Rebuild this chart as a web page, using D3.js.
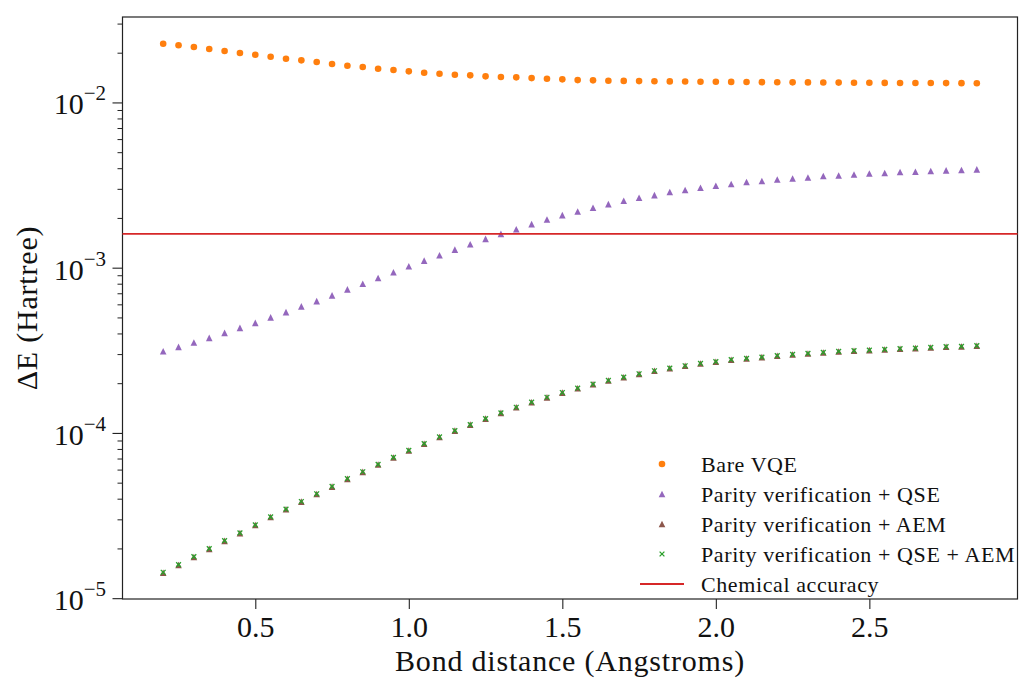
<!DOCTYPE html>
<html>
<head>
<meta charset="utf-8">
<script src="https://cdn.jsdelivr.net/npm/d3@7"></script>
<style>
  html, body { margin: 0; padding: 0; background: #fff; }
  svg { display: block; }
  text { font-family: "Liberation Serif", "DejaVu Serif", serif; fill: #111; }
</style>
</head>
<body>
<svg id="chart" width="1021" height="680"></svg>
<script>
// Bond distances (Angstroms)
const bondDistance = [
  0.20, 0.25, 0.30, 0.35, 0.40, 0.45, 0.50, 0.55, 0.60, 0.65,
  0.70, 0.75, 0.80, 0.85, 0.90, 0.95, 1.00, 1.05, 1.10, 1.15,
  1.20, 1.25, 1.30, 1.35, 1.40, 1.45, 1.50, 1.55, 1.60, 1.65,
  1.70, 1.75, 1.80, 1.85, 1.90, 1.95, 2.00, 2.05, 2.10, 2.15,
  2.20, 2.25, 2.30, 2.35, 2.40, 2.45, 2.50, 2.55, 2.60, 2.65,
  2.70, 2.75, 2.80, 2.85
];

// Energy error (Hartree) for each mitigation strategy
const bareVQE = [
  0.02267, 0.02218, 0.02166, 0.02106, 0.02048, 0.01992, 0.01945, 0.01891, 0.01839, 0.01798,
  0.01756, 0.01708, 0.01668, 0.01638, 0.01599, 0.01570, 0.01542, 0.01512, 0.01491, 0.01470,
  0.01458, 0.01438, 0.01424, 0.01418, 0.01404, 0.01390, 0.01379, 0.01365, 0.01360, 0.01352,
  0.01350, 0.01346, 0.01344, 0.01341, 0.01339, 0.01335, 0.01333, 0.01331, 0.01328, 0.01327,
  0.01325, 0.01323, 0.01322, 0.01320, 0.01318, 0.01316, 0.01315, 0.01313, 0.01312, 0.01311,
  0.01310, 0.01309, 0.01308, 0.01307
];

const parityQSE = [
  3.123e-4, 3.316e-4, 3.526e-4, 3.760e-4, 4.032e-4, 4.324e-4, 4.637e-4, 5.001e-4, 5.385e-4, 5.831e-4,
  6.279e-4, 6.802e-4, 7.395e-4, 7.996e-4, 8.661e-4, 9.377e-4, 1.020e-3, 1.103e-3, 1.189e-3, 1.286e-3,
  1.387e-3, 1.494e-3, 1.601e-3, 1.710e-3, 1.834e-3, 1.956e-3, 2.080e-3, 2.187e-3, 2.303e-3, 2.425e-3,
  2.539e-3, 2.648e-3, 2.750e-3, 2.868e-3, 2.949e-3, 3.045e-3, 3.131e-3, 3.207e-3, 3.298e-3, 3.344e-3,
  3.420e-3, 3.467e-3, 3.516e-3, 3.586e-3, 3.616e-3, 3.666e-3, 3.718e-3, 3.739e-3, 3.792e-3, 3.807e-3,
  3.846e-3, 3.878e-3, 3.899e-3, 3.933e-3
];

const parityAEM = [
  1.425e-5, 1.588e-5, 1.776e-5, 1.988e-5, 2.222e-5, 2.476e-5, 2.770e-5, 3.097e-5, 3.450e-5, 3.838e-5,
  4.274e-5, 4.735e-5, 5.275e-5, 5.815e-5, 6.441e-5, 7.103e-5, 7.834e-5, 8.603e-5, 9.446e-5, 1.032e-4,
  1.122e-4, 1.220e-4, 1.322e-4, 1.429e-4, 1.532e-4, 1.642e-4, 1.754e-4, 1.863e-4, 1.970e-4, 2.075e-4,
  2.173e-4, 2.278e-4, 2.376e-4, 2.464e-4, 2.548e-4, 2.631e-4, 2.695e-4, 2.771e-4, 2.822e-4, 2.874e-4,
  2.931e-4, 2.985e-4, 3.027e-4, 3.069e-4, 3.112e-4, 3.143e-4, 3.169e-4, 3.201e-4, 3.232e-4, 3.259e-4,
  3.291e-4, 3.323e-4, 3.337e-4, 3.370e-4
];

const parityQSEAEM = [
  1.434e-5, 1.595e-5, 1.783e-5, 1.995e-5, 2.230e-5, 2.483e-5, 2.777e-5, 3.105e-5, 3.457e-5, 3.846e-5,
  4.282e-5, 4.742e-5, 5.282e-5, 5.823e-5, 6.449e-5, 7.111e-5, 7.843e-5, 8.612e-5, 9.456e-5, 1.033e-4,
  1.123e-4, 1.221e-4, 1.323e-4, 1.430e-4, 1.534e-4, 1.644e-4, 1.756e-4, 1.865e-4, 1.972e-4, 2.077e-4,
  2.175e-4, 2.280e-4, 2.378e-4, 2.466e-4, 2.550e-4, 2.633e-4, 2.697e-4, 2.773e-4, 2.824e-4, 2.876e-4,
  2.933e-4, 2.987e-4, 3.029e-4, 3.071e-4, 3.114e-4, 3.145e-4, 3.171e-4, 3.203e-4, 3.234e-4, 3.261e-4,
  3.293e-4, 3.325e-4, 3.339e-4, 3.372e-4
];

const chemicalAccuracy = 1.6e-3;

const xTicks = [0.5, 1.0, 1.5, 2.0, 2.5];
const yTickExponents = [-5, -4, -3, -2];
const legendLabels = [
  "Bare VQE",
  "Parity verification + QSE",
  "Parity verification + AEM",
  "Parity verification + QSE + AEM",
  "Chemical accuracy"
];

const colors = {
  orange: "#ff7f0e",
  purple: "#9467bd",
  brown: "#8c564b",
  green: "#2ca02c",
  red: "#d62728"
};

// ---- layout ----
const svg = d3.select("#chart");
const plot = { left: 122.5, right: 1017.5, top: 17, bottom: 599 };

const x = d3.scaleLinear().domain([0.0675, 2.9825]).range([plot.left, plot.right]);
const y = d3.scaleLog().domain([Math.pow(10, -5.005), Math.pow(10, -1.483)]).range([plot.bottom, plot.top]);

const axisColor = "#222";

// ---- axes ----
const xAxis = svg.append("g").attr("transform", `translate(0,${plot.bottom})`)
  .call(d3.axisBottom(x).tickValues(xTicks).tickFormat(d3.format(".1f")).tickSize(10).tickSizeOuter(0));
xAxis.select(".domain").remove();
xAxis.selectAll(".tick line").attr("stroke", axisColor).attr("stroke-width", 1.1);
xAxis.selectAll(".tick text").attr("font-size", 30).attr("dy", 0).attr("y", 38).attr("fill", "#111")
  .attr("font-family", "Liberation Serif, DejaVu Serif, serif");

// minor log ticks on y
const minorVals = [];
for (let e = -6; e <= -1; e++) {
  for (let m = 2; m <= 9; m++) {
    const v = m * Math.pow(10, e);
    if (v >= y.domain()[0] && v <= y.domain()[1]) minorVals.push(v);
  }
}
const yMinor = svg.append("g").attr("transform", `translate(${plot.left},0)`)
  .call(d3.axisLeft(y).tickValues(minorVals).tickSize(5).tickFormat(""));
yMinor.select(".domain").remove();
yMinor.selectAll(".tick line").attr("stroke", axisColor).attr("stroke-width", 1);

const yMajor = svg.append("g").attr("transform", `translate(${plot.left},0)`)
  .call(d3.axisLeft(y).tickValues(yTickExponents.map(e => Math.pow(10, e))).tickSize(10).tickFormat(""));
yMajor.select(".domain").remove();
yMajor.selectAll(".tick line").attr("stroke", axisColor).attr("stroke-width", 1.1);

// y tick labels as 10 with superscript exponent
yTickExponents.forEach(e => {
  const t = svg.append("text")
    .attr("x", 106)
    .attr("y", y(Math.pow(10, e)) + 12)
    .attr("text-anchor", "end")
    .attr("font-size", 30);
  t.append("tspan").text("10");
  t.append("tspan").attr("font-size", 21).attr("dy", -14).text("\u2212" + Math.abs(e));
});

// frame
svg.append("rect")
  .attr("x", plot.left).attr("y", plot.top)
  .attr("width", plot.right - plot.left).attr("height", plot.bottom - plot.top)
  .attr("fill", "none").attr("stroke", axisColor).attr("stroke-width", 1.2);

// axis titles
svg.append("text")
  .attr("x", (plot.left + plot.right) / 2).attr("y", 671)
  .attr("text-anchor", "middle").attr("font-size", 30)
  .attr("letter-spacing", 0.8)
  .text("Bond distance (Angstroms)");

svg.append("text")
  .attr("transform", `translate(37,${(plot.top + plot.bottom) / 2}) rotate(-90)`)
  .attr("text-anchor", "middle").attr("font-size", 30)
  .attr("letter-spacing", 0.8)
  .text("\u0394E (Hartree)");

// ---- markers ----
const tri = s => `M0,${-s}L${s},${s}L${-s},${s}Z`;
const cross = s => `M${-s},${-s}L${s},${s}M${-s},${s}L${s},${-s}`;

const g = svg.append("g");

g.selectAll("circle.bare").data(bondDistance.map((d, i) => [d, bareVQE[i]]))
  .join("circle").attr("class", "bare")
  .attr("cx", d => x(d[0])).attr("cy", d => y(d[1])).attr("r", 3.3)
  .attr("fill", colors.orange);

g.selectAll("path.qse").data(bondDistance.map((d, i) => [d, parityQSE[i]]))
  .join("path").attr("class", "qse")
  .attr("d", tri(3.3))
  .attr("transform", d => `translate(${x(d[0])},${y(d[1])})`)
  .attr("fill", colors.purple);

g.selectAll("path.aem").data(bondDistance.map((d, i) => [d, parityAEM[i]]))
  .join("path").attr("class", "aem")
  .attr("d", tri(3.3))
  .attr("transform", d => `translate(${x(d[0])},${y(d[1])})`)
  .attr("fill", colors.brown);

g.selectAll("path.qseaem").data(bondDistance.map((d, i) => [d, parityQSEAEM[i]]))
  .join("path").attr("class", "qseaem")
  .attr("d", cross(2.4))
  .attr("transform", d => `translate(${x(d[0])},${y(d[1])})`)
  .attr("fill", "none").attr("stroke", colors.green).attr("stroke-width", 1.3);

// chemical accuracy threshold
g.append("line")
  .attr("x1", plot.left).attr("x2", plot.right)
  .attr("y1", y(chemicalAccuracy)).attr("y2", y(chemicalAccuracy))
  .attr("stroke", colors.red).attr("stroke-width", 1.8);

// ---- legend ----
const legend = svg.append("g");
const legX = 662, legTextX = 701, legY0 = 464, legStep = 30;
legendLabels.forEach((label, i) => {
  const cy = legY0 + i * legStep;
  const m = legend.append("g").attr("transform", `translate(${legX},${cy})`);
  if (i === 0) m.append("circle").attr("r", 3.3).attr("fill", colors.orange);
  if (i === 1) m.append("path").attr("d", tri(3.3)).attr("fill", colors.purple);
  if (i === 2) m.append("path").attr("d", tri(3.3)).attr("fill", colors.brown);
  if (i === 3) m.append("path").attr("d", cross(2.4)).attr("stroke", colors.green).attr("stroke-width", 1.3).attr("fill", "none");
  if (i === 4) m.append("line").attr("x1", -22).attr("x2", 22).attr("stroke", colors.red).attr("stroke-width", 1.8);
  legend.append("text")
    .attr("x", legTextX).attr("y", cy + 7.5)
    .attr("font-size", 22)
    .attr("letter-spacing", 0.6)
    .text(label);
});
</script>
</body>
</html>
